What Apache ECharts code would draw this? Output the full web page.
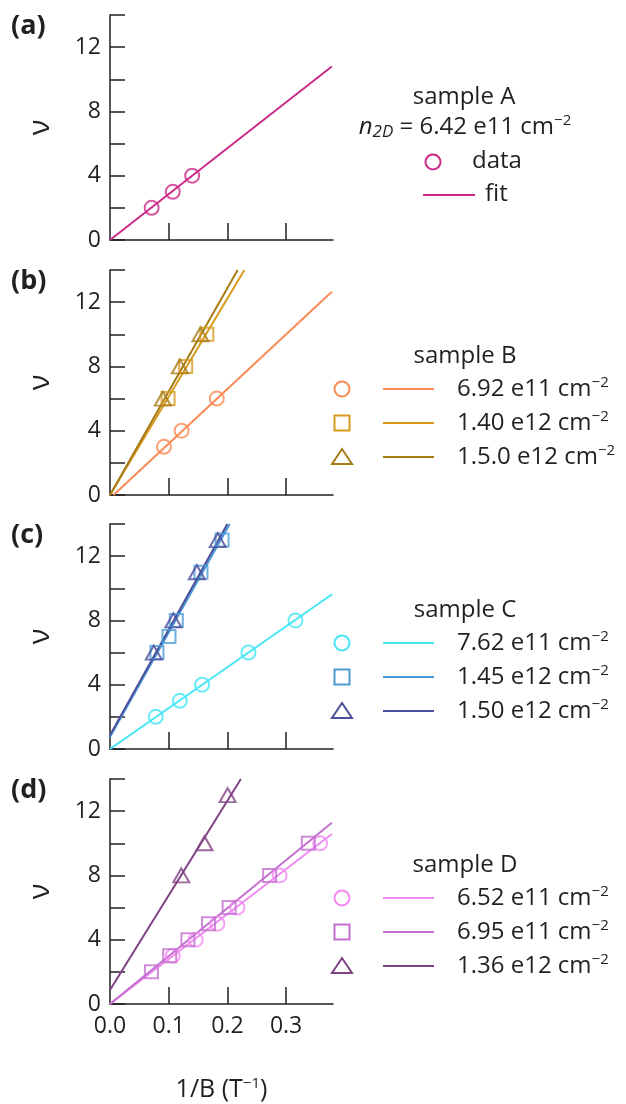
<!DOCTYPE html>
<html>
<head>
<meta charset="utf-8">
<script src="https://cdn.jsdelivr.net/npm/echarts@6/dist/echarts.min.js"></script>
<style>
  html, body { margin: 0; padding: 0; background: #fff; }
  #chart { width: 626px; height: 1104px; }
</style>
</head>
<body>
<div id="chart"></div>
<script>
// tick positions
const xTickValues = [0.1, 0.2, 0.3]
const xLabelValues = [0, 0.1, 0.2, 0.3]
const yTickValues = [0, 2, 4, 6, 8, 10, 12, 14]
const yLabelValues = [0, 4, 8, 12]

// (a) sample A
const aData = [[0.071, 2], [0.107, 3], [0.140, 4]]
const aFit = [[0, 0], [0.378, 10.8]]

// (b) sample B
const bCircle = [[0.092, 3], [0.122, 4], [0.182, 6]]
const bSquare = [[0.099, 6], [0.129, 8], [0.165, 10]]
const bTriangle = [[0.090, 6], [0.119, 8], [0.154, 10]]
const bCircleFit = [[0.006, 0], [0.378, 12.65]]
const bSquareFit = [[0, 0], [0.229, 14]]
const bTriangleFit = [[0, 0], [0.2175, 14]]

// (c) sample C
const cCircle = [[0.078, 2], [0.119, 3], [0.157, 4], [0.236, 6], [0.316, 8]]
const cSquare = [[0.080, 6], [0.1005, 7], [0.113, 8], [0.155, 11], [0.191, 13]]
const cTriangle = [[0.0746, 6], [0.108, 8], [0.148, 11], [0.1836, 13]]
const cCircleFit = [[0, 0], [0.3785, 9.63]]
const cSquareFit = [[0, 0.75], [0.204, 14]]
const cTriangleFit = [[0, 0.85], [0.200, 14]]

// (d) sample D
const dCircle = [[0.107, 3], [0.146, 4], [0.183, 5], [0.217, 6], [0.289, 8], [0.358, 10]]
const dSquare = [[0.0706, 2], [0.1017, 3], [0.1328, 4], [0.168, 5], [0.203, 6], [0.272, 8], [0.338, 10]]
const dTriangle = [[0.1215, 8], [0.161, 10], [0.2005, 13]]
const dCircleFit = [[0, 0], [0.378, 10.58]]
const dSquareFit = [[0, 0], [0.378, 11.28]]
const dTriangleFit = [[0, 0.87], [0.223, 14]]

// legend texts
const legendA = ['sample A', '6.42 e11', 'data', 'fit']
const legendB = ['sample B', '6.92 e11', '1.40 e12', '1.5.0 e12']
const legendC = ['sample C', '7.62 e11', '1.45 e12', '1.50 e12']
const legendD = ['sample D', '6.52 e11', '6.95 e11', '1.36 e12']
const panelLabels = ['(a)', '(b)', '(c)', '(d)']

const FONT = '"Open Sans", "Noto Sans", sans-serif'
const INK = '#231f20'
const gridTops = [15, 270, 524, 779]
const gridH = 225
const LEG_FS = 24

const colA = '#cc2a88'
const colB = ['#fb8a55', '#d89a1c', '#a77b16']
const colC = ['#45e6f6', '#4b9cd6', '#4b4f9c']
const colD = ['#f18af2', '#c46fcf', '#7f4285']

const symbolOf = {
  circle: { symbol: 'circle', size: 14 },
  square: { symbol: 'rect', size: 13 },
  triangle: { symbol: 'triangle', size: [16, 14] }
}

const chart = echarts.init(document.getElementById('chart'))

const grids = gridTops.map(t => ({ left: 110, width: 223, top: t, height: gridH }))

const xAxes = gridTops.map((t, i) => ({
  type: 'value', gridIndex: i, min: 0, max: 0.38,
  axisLine: { lineStyle: { color: INK, width: 1.5 } },
  axisTick: { inside: true, length: 17, lineStyle: { color: INK, width: 1.5 }, customValues: xTickValues },
  axisLabel: {
    show: i === 3, customValues: xLabelValues, margin: 11,
    color: INK, fontFamily: FONT, fontSize: 23,
    formatter: v => v.toFixed(1)
  },
  splitLine: { show: false },
  name: i === 3 ? '1/B (T{sup|−1})' : '',
  nameLocation: 'middle', nameGap: 72,
  nameTextStyle: {
    color: INK, fontFamily: FONT, fontSize: 25,
    rich: { sup: { fontSize: 15, verticalAlign: 'top', color: INK, fontFamily: FONT, padding: [0, 0, 12, 0] } }
  }
}))

const yAxes = gridTops.map((t, i) => ({
  type: 'value', gridIndex: i, min: 0, max: 14, interval: 2,
  axisLine: { lineStyle: { color: INK, width: 1.5 } },
  axisTick: { inside: true, length: 15, lineStyle: { color: INK, width: 1.5 }, customValues: yTickValues },
  axisLabel: { customValues: yLabelValues, margin: 9, color: INK, fontFamily: FONT, fontSize: 23 },
  splitLine: { show: false },
  name: 'ν', nameLocation: 'middle', nameGap: 55,
  nameTextStyle: { color: INK, fontFamily: FONT, fontSize: 29 }
}))

function fitLine(idx, data, color) {
  return {
    type: 'line', xAxisIndex: idx, yAxisIndex: idx, data: data,
    showSymbol: false, silent: true, z: 2,
    lineStyle: { color: color, width: 2 }
  }
}
function points(idx, data, color, kind) {
  const s = symbolOf[kind]
  return {
    type: 'scatter', xAxisIndex: idx, yAxisIndex: idx, data: data,
    symbol: s.symbol, symbolSize: s.size, z: 3,
    itemStyle: { color: 'rgba(0,0,0,0)', borderColor: color, borderWidth: 2 }
  }
}

const series = [
  fitLine(0, aFit, colA), points(0, aData, colA, 'circle'),

  fitLine(1, bCircleFit, colB[0]), fitLine(1, bSquareFit, colB[1]), fitLine(1, bTriangleFit, colB[2]),
  points(1, bCircle, colB[0], 'circle'), points(1, bSquare, colB[1], 'square'), points(1, bTriangle, colB[2], 'triangle'),

  fitLine(2, cCircleFit, colC[0]), fitLine(2, cSquareFit, colC[1]), fitLine(2, cTriangleFit, colC[2]),
  points(2, cCircle, colC[0], 'circle'), points(2, cSquare, colC[1], 'square'), points(2, cTriangle, colC[2], 'triangle'),

  fitLine(3, dCircleFit, colD[0]), fitLine(3, dSquareFit, colD[1]), fitLine(3, dTriangleFit, colD[2]),
  points(3, dCircle, colD[0], 'circle'), points(3, dSquare, colD[1], 'square'), points(3, dTriangle, colD[2], 'triangle')
]

// legend building blocks (graphic elements)
const txt = (x, y, text, align, extra) => ({
  type: 'text', x: x, y: y, silent: true,
  style: Object.assign({
    text: text, fill: INK, font: LEG_FS + 'px ' + FONT,
    textAlign: align || 'left', textVerticalAlign: 'middle'
  }, extra || {})
})
const supRich = {
  sup: { fontSize: 15, verticalAlign: 'top', fontFamily: FONT, fill: INK, padding: [0, 0, 13, 0] },
  n: { fontSize: LEG_FS, fontFamily: FONT, fontStyle: 'italic', fill: INK },
  sub: { fontSize: 17, fontFamily: FONT, fontStyle: 'italic', fill: INK, verticalAlign: 'bottom', padding: [11, 0, 0, 0] }
}
const density = (x, y, val) => txt(x, y, val + ' cm{sup|−2}', 'left', { rich: supRich, fontSize: LEG_FS, fontFamily: FONT })
const marker = (kind, x, y, color) => {
  const base = { silent: true, style: { fill: 'none', stroke: color, lineWidth: 2 } }
  if (kind === 'circle') return Object.assign({ type: 'circle', shape: { cx: x, cy: y, r: 7.5 } }, base)
  if (kind === 'square') return Object.assign({ type: 'rect', shape: { x: x - 7.5, y: y - 7.5, width: 15, height: 15 } }, base)
  return Object.assign({ type: 'polygon', shape: { points: [[x, y - 8], [x + 10, y + 7], [x - 10, y + 7]] } }, base)
}
const seg = (x1, x2, y, color) => ({
  type: 'line', silent: true, shape: { x1: x1, y1: y, x2: x2, y2: y },
  style: { stroke: color, lineWidth: 2 }
})

const graphic = []
panelLabels.forEach((p, i) => {
  graphic.push(txt(11, gridTops[i] + 11, p, 'left', { font: 'bold 27px ' + FONT }))
})

// sample A legend
graphic.push(txt(464, 97, legendA[0], 'center'))
graphic.push(txt(465, 127, '{n|n}{sub|2D} = ' + legendA[1] + ' cm{sup|−2}', 'center', { rich: supRich, fontSize: LEG_FS, fontFamily: FONT }))
graphic.push(marker('circle', 433, 162, colA))
graphic.push(txt(472, 161, legendA[2]))
graphic.push(seg(423, 475, 195, colA))
graphic.push(txt(485, 194, legendA[3]))

// samples B, C, D legends
const kinds = ['circle', 'square', 'triangle']
;[[legendB, colB, 1], [legendC, colC, 2], [legendD, colD, 3]].forEach(([lg, cols, i]) => {
  const top = gridTops[i]
  graphic.push(txt(465, top + 86, lg[0], 'center'))
  kinds.forEach((k, r) => {
    const y = top + 119 + r * 34
    graphic.push(marker(k, 342, y, cols[r]))
    graphic.push(seg(383, 434, y, cols[r]))
    graphic.push(density(457, y, lg[r + 1]))
  })
})

chart.setOption({
  animation: false,
  backgroundColor: '#fff',
  textStyle: { fontFamily: FONT },
  grid: grids,
  xAxis: xAxes,
  yAxis: yAxes,
  series: series,
  graphic: graphic
})
</script>
</body>
</html>
